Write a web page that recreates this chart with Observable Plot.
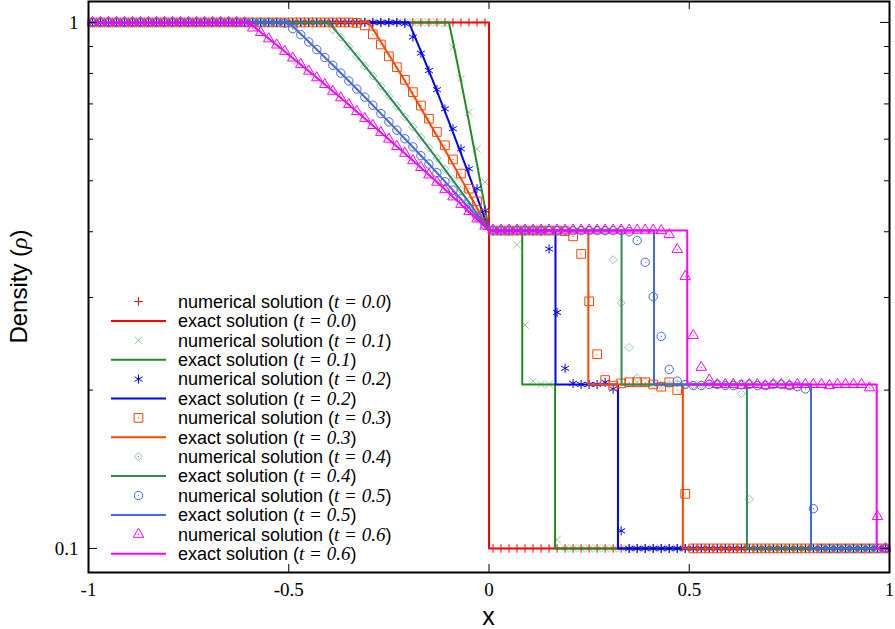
<!DOCTYPE html>
<html><head><meta charset="utf-8">
<script src="https://cdn.jsdelivr.net/npm/d3@7"></script>
<script src="https://cdn.jsdelivr.net/npm/@observablehq/plot@0.6"></script>
<style>
body{margin:0;background:#fff;}
svg{display:block;}
</style>
</head><body>
<script>
// ---------------- data ----------------
const xTicks = [-1, -0.5, 0, 0.5, 1];
const yMajorTicks = [0.1, 1];
const yMinorTicks = [0.2, 0.3, 0.4, 0.5, 0.6, 0.7, 0.8, 0.9];
const timeLabels = ["0.0", "0.1", "0.2", "0.3", "0.4", "0.5", "0.6"];

// cell centres of the 100-cell grid on [-1, 1]
const xGrid = d3.range(100).map(i => +(-0.99 + 0.02 * i).toFixed(2));

// numerical solutions (density at each cell centre), rows of 10 cells
const num00 = [
  1,1,1,1,1,1,1,1,1,1, 1,1,1,1,1,1,1,1,1,1, 1,1,1,1,1,1,1,1,1,1, 1,1,1,1,1,1,1,1,1,1, 1,1,1,1,1,1,1,1,1,1,
  0.1,0.1,0.1,0.1,0.1,0.1,0.1,0.1,0.1,0.1, 0.1,0.1,0.1,0.1,0.1,0.1,0.1,0.1,0.1,0.1, 0.1,0.1,0.1,0.1,0.1,0.1,0.1,0.1,0.1,0.1,
  0.1,0.1,0.1,0.1,0.1,0.1,0.1,0.1,0.1,0.1, 0.1,0.1,0.1,0.1,0.1,0.1,0.1,0.1,0.1,0.1];
const num01 = [
  1,1,1,1,1,1,1,1,1,1, 1,1,1,1,1,1,1,1,1,1, 1,1,1,1,1,1,1,1,1,1, 1,1,1,1,1,1,1,1,1,1,
  1,1,1,1,0.995,0.897,0.782,0.675,0.575,0.497,
  0.402,0.401,0.398,0.378,0.266,0.208,0.205,0.205,0.104,0.1,
  0.1,0.1,0.1,0.1,0.1,0.1,0.1,0.1,0.1,0.1, 0.1,0.1,0.1,0.1,0.1,0.1,0.1,0.1,0.1,0.1,
  0.1,0.1,0.1,0.1,0.1,0.1,0.1,0.1,0.1,0.1, 0.1,0.1,0.1,0.1,0.1,0.1,0.1,0.1,0.1,0.1];
const num02 = [
  1,1,1,1,1,1,1,1,1,1, 1,1,1,1,1,1,1,1,1,1, 1,1,1,1,1,1,1,1,1,1,
  1,1,1,1,1,1,1,1,1,0.995,
  0.938,0.874,0.810,0.745,0.685,0.628,0.575,0.527,0.483,0.439,
  0.402,0.402,0.402,0.402,0.402,0.402,0.401,0.371,0.281,0.220,
  0.206,0.205,0.205,0.205,0.207,0.201,0.108,0.1,0.1,0.1,
  0.1,0.1,0.1,0.1,0.1,0.1,0.1,0.1,0.1,0.1, 0.1,0.1,0.1,0.1,0.1,0.1,0.1,0.1,0.1,0.1,
  0.1,0.1,0.1,0.1,0.1,0.1,0.1,0.1,0.1,0.1];
const num03 = [
  1,1,1,1,1,1,1,1,1,1, 1,1,1,1,1,1,1,1,1,1, 1,1,1,1,1,1,1,1,1,1,
  1,1,1,0.998,0.987,0.949,0.908,0.862,0.822,0.778,
  0.737,0.695,0.656,0.619,0.584,0.549,0.516,0.483,0.457,0.433,
  0.402,0.402,0.402,0.402,0.402,0.402,0.402,0.402,0.402,0.401,
  0.392,0.363,0.295,0.234,0.209,0.204,0.206,0.207,0.207,0.207,
  0.205,0.203,0.207,0.200,0.127,0.1,0.1,0.1,0.1,0.1,
  0.1,0.1,0.1,0.1,0.1,0.1,0.1,0.1,0.1,0.1, 0.1,0.1,0.1,0.1,0.1,0.1,0.1,0.1,0.1,0.1];
const num04 = [
  1,1,1,1,1,1,1,1,1,1, 1,1,1,1,1,1,1,1,1,1,
  1,1,1,1,1,1,1,1,1,0.997,
  0.968,0.937,0.900,0.862,0.826,0.791,0.757,0.724,0.693,0.662,
  0.633,0.605,0.578,0.552,0.527,0.503,0.480,0.458,0.437,0.418,
  0.402,0.402,0.402,0.402,0.402,0.402,0.402,0.402,0.402,0.402,
  0.402,0.402,0.402,0.402,0.401,0.354,0.293,0.241,0.211,0.207,
  0.205,0.204,0.205,0.206,0.205,0.204,0.205,0.206,0.205,0.204,
  0.205,0.197,0.124,0.1,0.1,0.1,0.1,0.1,0.1,0.1,
  0.1,0.1,0.1,0.1,0.1,0.1,0.1,0.1,0.1,0.1];
const num05 = [
  1,1,1,1,1,1,1,1,1,1, 1,1,1,1,1,1,1,1,1,1,
  1,1,1,1,0.997,0.973,0.948,0.918,0.888,0.858,
  0.829,0.801,0.774,0.747,0.721,0.696,0.671,0.647,0.624,0.601,
  0.580,0.558,0.538,0.518,0.498,0.480,0.462,0.444,0.427,0.412,
  0.402,0.402,0.402,0.402,0.402,0.402,0.402,0.402,0.402,0.402,
  0.402,0.402,0.402,0.402,0.402,0.402,0.402,0.400,0.385,0.350,
  0.301,0.253,0.219,0.208,0.205,0.204,0.204,0.205,0.205,0.204,
  0.204,0.205,0.205,0.204,0.204,0.205,0.205,0.204,0.203,0.201,
  0.119,0.1,0.1,0.1,0.1,0.1,0.1,0.1,0.1,0.1];
const num06 = [
  1,1,1,1,1,1,1,1,1,1,
  1,1,1,1,1,1,1,1,1,0.998,
  0.976,0.957,0.931,0.906,0.881,0.856,0.832,0.808,0.785,0.762,
  0.740,0.719,0.698,0.677,0.657,0.637,0.618,0.600,0.581,0.564,
  0.546,0.530,0.513,0.497,0.481,0.466,0.451,0.437,0.423,0.410,
  0.403,0.403,0.403,0.403,0.403,0.403,0.403,0.403,0.403,0.403,
  0.403,0.403,0.403,0.403,0.403,0.403,0.403,0.403,0.403,0.403,
  0.403,0.402,0.395,0.370,0.329,0.254,0.221,0.209,0.205,0.205,
  0.205,0.204,0.205,0.205,0.204,0.205,0.205,0.204,0.205,0.205,
  0.205,0.205,0.204,0.205,0.205,0.205,0.205,0.202,0.115,0.1];

// exact solutions (breakpoints of the piecewise profile)
const exactX00 = [-1, 0, 0, 1];
const exactRho00 = [1, 1, 0.1, 0.1];
const exactRho = [1, 1, 0.919, 0.844, 0.774, 0.708, 0.647, 0.590, 0.538, 0.489, 0.444, 0.402, 0.402, 0.205, 0.205, 0.1, 0.1];
const exactX01 = [-1, -0.1, -0.09, -0.08, -0.07, -0.06, -0.05, -0.04, -0.03, -0.02, -0.01, 0, 0.083, 0.083, 0.165, 0.165, 1];
const exactX02 = [-1, -0.2, -0.18, -0.16, -0.14, -0.12, -0.10, -0.08, -0.06, -0.04, -0.02, 0, 0.166, 0.166, 0.322, 0.322, 1];
const exactX03 = [-1, -0.3, -0.27, -0.24, -0.21, -0.18, -0.15, -0.12, -0.09, -0.06, -0.03, 0, 0.248, 0.248, 0.484, 0.484, 1];
const exactX04 = [-1, -0.4, -0.36, -0.32, -0.28, -0.24, -0.20, -0.16, -0.12, -0.08, -0.04, 0, 0.331, 0.331, 0.644, 0.644, 1];
const exactX05 = [-1, -0.5, -0.45, -0.40, -0.35, -0.30, -0.25, -0.20, -0.15, -0.10, -0.05, 0, 0.412, 0.412, 0.804, 0.804, 1];
const exactX06 = [-1, -0.6, -0.54, -0.48, -0.42, -0.36, -0.30, -0.24, -0.18, -0.12, -0.06, 0, 0.495, 0.495, 0.968, 0.968, 1];

const numericals = [num00, num01, num02, num03, num04, num05, num06];
const exactXs = [exactX00, exactX01, exactX02, exactX03, exactX04, exactX05, exactX06];
const exactRhos = [exactRho00, exactRho, exactRho, exactRho, exactRho, exactRho, exactRho];

// ---------------- styles ----------------
const styles = [
  {symbol: "plus",     d3sym: d3.symbolPlus,     r: 2.9, mark: "#ff0000", line: "#ff0000", op: 1,   center: false},
  {symbol: "times",    d3sym: d3.symbolTimes,    r: 3.5, mark: "#2a9a2a", line: "#228b22", op: 0.5, center: false},
  {symbol: "asterisk", d3sym: d3.symbolAsterisk, r: 4.3, mark: "#0000ff", line: "#0000ff", op: 1,   center: false},
  {symbol: "square",   d3sym: d3.symbolSquare,   r: 4.9, mark: "#ff4500", line: "#ff4500", op: 1,   center: true},
  {symbol: "diamond2", d3sym: d3.symbolDiamond2, r: 3.6, mark: "#2e8b57", line: "#2e8b57", op: 0.5, center: true},
  {symbol: "circle",   d3sym: d3.symbolCircle,   r: 4.2, mark: "#4169e1", line: "#4169e1", op: 1,   center: true},
  {symbol: "triangle", d3sym: d3.symbolTriangle, r: 3.9, mark: "#ff00ff", line: "#ff00ff", op: 1,   center: true}
];

// ---------------- chart ----------------
const W = 895, H = 629, mt = 1, mr = 6, mb = 57, ml = 88;
const plotH = H - mt - mb, plotW = W - ml - mr;

const marks = [];
numericals.forEach((vals, k) => {
  const s = styles[k];
  const pts = xGrid.map((x, i) => ({x, y: vals[i]}));
  marks.push(Plot.dot(pts, {x: "x", y: "y", symbol: s.symbol, r: s.r, fill: "none",
    stroke: s.mark, strokeOpacity: s.op, strokeWidth: 1}));
  if (s.center) marks.push(Plot.dot(pts, {x: "x", y: "y", r: 0.6, fill: s.mark, fillOpacity: s.op, stroke: "none"}));
  const ex = exactXs[k].map((x, i) => ({x, y: exactRhos[k][i]}));
  marks.push(Plot.line(ex, {x: "x", y: "y", stroke: s.line, strokeWidth: 2, curve: "linear"}));
});

// inward ticks
marks.push(Plot.tickX(xTicks, {x: d => d, insetTop: plotH - 8, stroke: "black", strokeWidth: 1}));
marks.push(Plot.tickX(xTicks, {x: d => d, insetBottom: plotH - 8, stroke: "black", strokeWidth: 1}));
marks.push(Plot.tickY(yMinorTicks, {y: d => d, insetRight: plotW - 5, stroke: "black", strokeWidth: 1}));
marks.push(Plot.tickY(yMinorTicks, {y: d => d, insetLeft: plotW - 5, stroke: "black", strokeWidth: 1}));
marks.push(Plot.tickY(yMajorTicks, {y: d => d, insetRight: plotW - 9, stroke: "black", strokeWidth: 1}));
marks.push(Plot.tickY(yMajorTicks, {y: d => d, insetLeft: plotW - 9, stroke: "black", strokeWidth: 1}));

marks.push(Plot.axisX(xTicks, {anchor: "bottom", tickSize: 0, tickPadding: 10, label: null,
  tickFormat: d => String(d), fontSize: 19, fontFamily: "Liberation Serif", fill: "black"}));
marks.push(Plot.axisY(yMajorTicks, {anchor: "left", tickSize: 0, tickPadding: 10, label: null,
  tickFormat: d => String(d), fontSize: 19, fontFamily: "Liberation Serif", fill: "black"}));
marks.push(Plot.frame({stroke: "black", strokeWidth: 2}));

const chart = Plot.plot({
  width: W, height: H,
  marginTop: mt, marginRight: mr, marginBottom: mb, marginLeft: ml,
  x: {type: "linear", domain: [-1, 1]},
  y: {type: "log", domain: [0.09, 1.096]},
  style: {background: "#fff", color: "black", overflow: "visible"},
  marks
});
document.body.appendChild(chart);

// ---------------- axis titles and legend ----------------
const svg = d3.select(chart);
svg.append("text")
  .attr("transform", `translate(27,${mt + plotH / 2}) rotate(-90)`)
  .attr("text-anchor", "middle")
  .attr("font-family", "Liberation Sans, Arial, sans-serif")
  .attr("font-size", 24)
  .attr("fill", "black")
  .call(t => {
    t.append("tspan").text("Density (");
    t.append("tspan").attr("font-family", "Liberation Serif").attr("font-style", "italic").text("ρ");
    t.append("tspan").text(")");
  });
svg.append("text")
  .attr("x", ml + plotW / 2).attr("y", 625)
  .attr("text-anchor", "middle")
  .attr("font-family", "Liberation Sans, Arial, sans-serif")
  .attr("font-size", 25)
  .attr("fill", "black")
  .text("x");

const leg = svg.append("g").attr("font-family", "Liberation Sans, Arial, sans-serif")
  .attr("font-size", 18).attr("text-anchor", "start");
const legY0 = 301.5, legDy = 19.4, sampleX0 = 111, sampleX1 = 166, markX = 138.5, textX = 178;
let row = 0;
styles.forEach((s, k) => {
  // numerical entry
  let y = legY0 + legDy * row++;
  const g1 = leg.append("g");
  g1.append("path")
    .attr("d", d3.symbol(s.d3sym, Math.PI * s.r * s.r)())
    .attr("transform", `translate(${markX},${y})`)
    .attr("fill", "none").attr("stroke", s.mark).attr("stroke-opacity", s.op).attr("stroke-width", 1);
  if (s.center) g1.append("circle").attr("cx", markX).attr("cy", y).attr("r", 0.6).attr("fill", s.mark);
  addLabel("numerical solution (", timeLabels[k], y);
  // exact entry
  y = legY0 + legDy * row++;
  leg.append("line").attr("x1", sampleX0).attr("x2", sampleX1).attr("y1", y).attr("y2", y)
    .attr("stroke", s.line).attr("stroke-width", 2);
  addLabel("exact solution (", timeLabels[k], y);
});
function addLabel(prefix, tl, y) {
  const t = leg.append("text").attr("x", textX).attr("y", y).attr("dy", "0.35em")
    .attr("fill", "black").attr("text-anchor", "start");
  t.append("tspan").text(prefix);
  t.append("tspan").attr("font-family", "Liberation Serif").attr("font-style", "italic").attr("font-size", 19).text("t = " + tl);
  t.append("tspan").text(")");
}
</script>
</body></html>
